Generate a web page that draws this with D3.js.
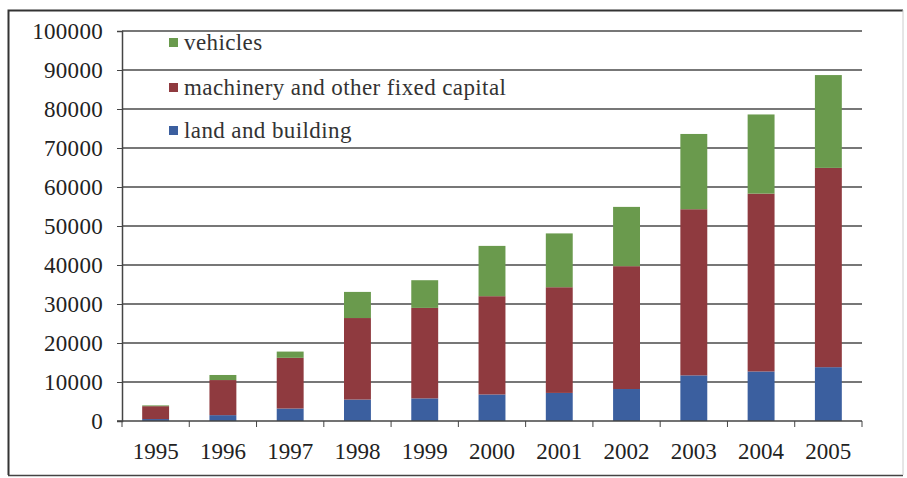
<!DOCTYPE html>
<html>
<head>
<meta charset="utf-8">
<script src="https://cdn.jsdelivr.net/npm/d3@7"></script>
<style>
  body { margin: 0; background: #fff; }
  svg text { font-family: "Liberation Serif", "Times New Roman", Times, serif; }
</style>
</head>
<body>
<div id="chart-area"></div>
<script>
// data
var years = ['1995','1996','1997','1998','1999','2000','2001','2002','2003','2004','2005'];
var land = [500, 1500, 3200, 5500, 5800, 6800, 7200, 8200, 11700, 12700, 13800];
var machinery = [3300, 9000, 13000, 20900, 23200, 25200, 27100, 31500, 42600, 45600, 51100];
var vehicles = [200, 1300, 1600, 6700, 7100, 12900, 13800, 15200, 19300, 20300, 23800];
var seriesNames = ['land and building', 'machinery and other fixed capital', 'vehicles'];
var yTicks = [0,10000,20000,30000,40000,50000,60000,70000,80000,90000,100000];

var svgWidth = 907, svgHeight = 478;
var margin = {left:122, right:45, top:31, bottom:57};
var width = svgWidth - margin.left - margin.right;
var height = svgHeight - margin.top - margin.bottom;

var colors = {'land and building':'#3b5f9f', 'machinery and other fixed capital':'#8f3a3f', 'vehicles':'#6a9a4d'};

var svg = d3.select('#chart-area')
            .append('svg')
            .attr('width', svgWidth)
            .attr('height', svgHeight);

// outer frame
svg.append('path')
   .attr('d', 'M8.5,475 L8.5,10.5 L903,10.5')
   .attr('fill','none')
   .attr('stroke','#333')
   .attr('stroke-width',2);
svg.append('line')
   .attr('x1',8).attr('x2',903).attr('y1',475.5).attr('y2',475.5)
   .attr('stroke','#444').attr('stroke-width',1.5);
svg.append('line')
   .attr('x1',903).attr('x2',903).attr('y1',10).attr('y2',475)
   .attr('stroke','#ccc').attr('stroke-width',1);

var g = svg.append('g').attr('transform','translate('+margin.left+','+margin.top+')');

var table = years.map(function(y,i){
    return {year:y, 'land and building':land[i], 'machinery and other fixed capital':machinery[i], 'vehicles':vehicles[i]};
});
var stacked = d3.stack().keys(seriesNames)(table);

var xScale = d3.scaleBand()
               .domain(years)
               .range([0,width])
               .paddingInner(0.6)
               .paddingOuter(0.3);

var yScale = d3.scaleLinear()
               .domain([0,100000])
               .range([height,0]);

// gridlines
g.selectAll('.grid')
 .data(yTicks.slice(1))
 .enter().append('line')
 .attr('x1',0).attr('x2',width)
 .attr('y1',function(d){ return yScale(d); })
 .attr('y2',function(d){ return yScale(d); })
 .attr('stroke','#4a4a4a')
 .attr('stroke-width',1.5);

// bars
g.selectAll('.series')
 .data(stacked)
 .enter().append('g')
 .attr('fill', function(d){ return colors[d.key]; })
 .selectAll('rect')
 .data(function(d){ return d; })
 .enter().append('rect')
 .attr('x', function(d){ return xScale(d.data.year); })
 .attr('y', function(d){ return yScale(d[1]); })
 .attr('width', xScale.bandwidth())
 .attr('height', function(d){ return yScale(d[0]) - yScale(d[1]); });

// y axis
var yAxis = d3.axisLeft(yScale)
              .tickValues(yTicks)
              .tickSize(5)
              .tickPadding(14)
              .tickFormat(d3.format('d'));
var ya = g.append('g').call(yAxis).attr('font-family', null);
ya.select('.domain').attr('stroke','#444').attr('stroke-width',1.5);
ya.selectAll('line').attr('stroke','#444');
ya.selectAll('text').attr('font-size','23px').attr('fill','#222')
  .attr('letter-spacing','0.3px');

// x axis, ticks between categories
var step = xScale.step();
var xa = g.append('g').attr('transform','translate(0,'+height+')');
xa.append('line').attr('x1',-5).attr('x2',width).attr('y1',0).attr('y2',0)
  .attr('stroke','#444').attr('stroke-width',1.5);
xa.selectAll('.tick')
  .data(d3.range(years.length+1))
  .enter().append('line')
  .attr('x1',function(i){ return i*step; })
  .attr('x2',function(i){ return i*step; })
  .attr('y1',0).attr('y2',6)
  .attr('stroke','#444');
xa.selectAll('.lbl')
  .data(years)
  .enter().append('text')
  .attr('x',function(d){ return xScale(d) + xScale.bandwidth()/2; })
  .attr('y',38)
  .attr('text-anchor','middle')
  .attr('font-size','23px')
  .attr('fill','#222')
  .text(function(d){ return d; });

// legend
var legendOrder = ['vehicles','machinery and other fixed capital','land and building'];
var legendY = [43, 88, 131];
var lg = svg.append('g');
legendOrder.forEach(function(name,i){
    lg.append('rect')
      .attr('x',169).attr('y',legendY[i]-5)
      .attr('width',9).attr('height',9)
      .attr('fill',colors[name]);
    lg.append('text')
      .attr('x',184).attr('y',legendY[i]+7)
      .attr('font-size','23px')
      .attr('letter-spacing','0.4px')
      .attr('fill','#333')
      .text(name);
});
</script>
</body>
</html>
